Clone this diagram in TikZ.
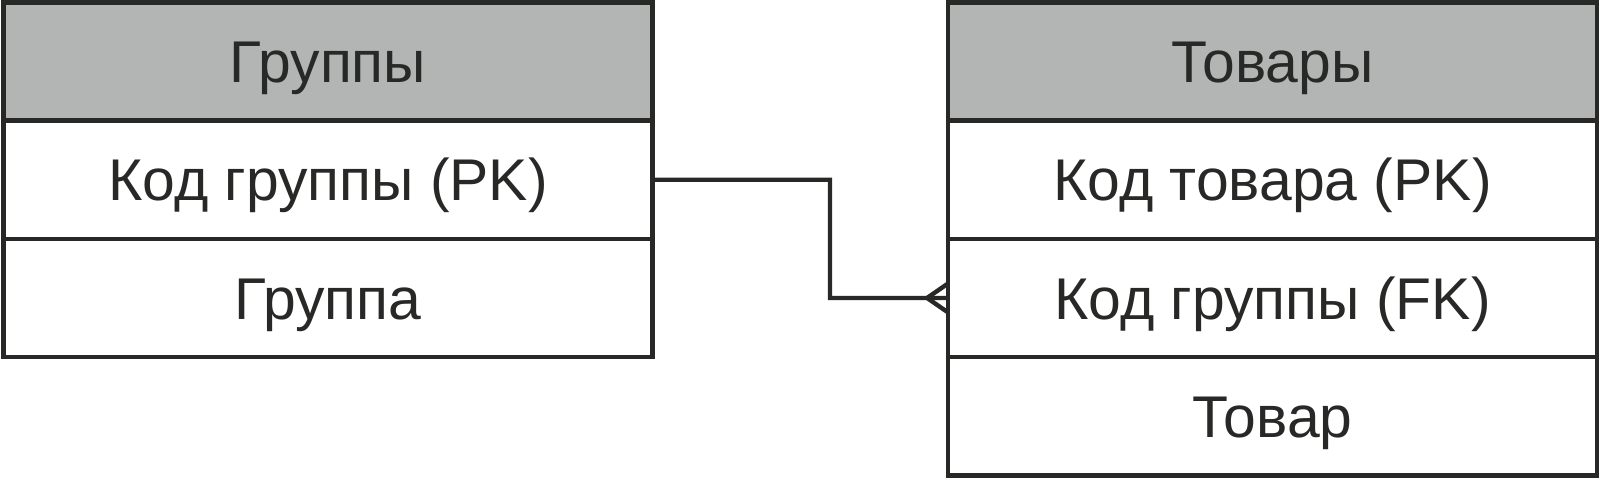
\documentclass[tikz,border=0pt]{standalone}
\usepackage{fontspec}
\setmainfont{Liberation Sans}
\definecolor{linegray}{HTML}{282826}
\definecolor{headgray}{HTML}{B3B5B4}
\usetikzlibrary{positioning}

\tikzset{
	field/.style = {draw = linegray, line width = 2.5pt, rectangle, inner sep = 0pt, outer sep = 0pt,
		minimum width = 12.98cm, minimum height = 2.365cm, text = linegray,
		text height = 24pt, text depth = 0pt, font = \fontsize{33.5}{40}\selectfont},
	header/.style = {field, fill = headgray},
	link/.style = {draw = linegray, line width = 2.5pt}
}

\begin{document}
\begin{tikzpicture}[x = 0.02cm, y = -0.02cm]
	\useasboundingbox (0, 0) rectangle (1601, 478);
	% Группы
	\node[header] at (328, 61.5) (grp-head) {Группы};
	\node[field, below = 0pt of grp-head] (grp-pk) {Код группы (PK)};
	\node[field, below = 0pt of grp-pk] (grp-name) {Группа};
	% Товары
	\node[header] at (1272.5, 61.5) (tov-head) {Товары};
	\node[field, below = 0pt of tov-head] (tov-pk) {Код товара (PK)};
	\node[field, below = 0pt of tov-pk] (tov-fk) {Код группы (FK)};
	\node[field, below = 0pt of tov-fk] (tov-name) {Товар};
	% связь один-ко-многим
	\coordinate (bend) at (830, 298);
	\coordinate (foot) at ([xshift = -0.42cm]tov-fk.west);
	\draw[link] (grp-pk.east) -| (bend) -- (tov-fk.west);
	\draw[link] ([yshift = 0.29cm]tov-fk.west) -- (foot) -- ([yshift = -0.29cm]tov-fk.west);
\end{tikzpicture}
\end{document}
